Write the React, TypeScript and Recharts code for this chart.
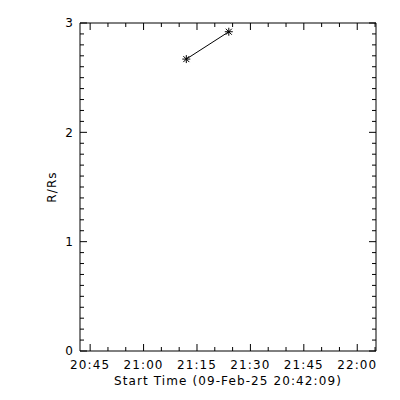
import React from 'react';
import { LineChart, Line, XAxis, YAxis } from 'recharts';

// ---- data ----
const startTimeLabel = '09-Feb-25 20:42:09';
const axisStartTime = '20:42:09';
const axisEndTime = '22:05:16';
const eventTimes = ['21:12:00', '21:23:56'];
const heightsRs = [2.67, 2.92];
const xTickTimes = [
  '20:45', '20:50', '20:55', '21:00', '21:05', '21:10', '21:15', '21:20', '21:25',
  '21:30', '21:35', '21:40', '21:45', '21:50', '21:55', '22:00', '22:05',
];
const xMajorLabels = ['20:45', '21:00', '21:15', '21:30', '21:45', '22:00'];
const yMajorTicks = [0, 1, 2, 3];
const yMinorPerMajor = 10;
const yTitle = 'R/Rs';

const toMin = (s: string) => {
  const p = s.split(':').map(Number);
  return p[0] * 60 + p[1] + (p[2] || 0) / 60;
};
const fmt = (m: number) => {
  const h = Math.floor(m / 60 + 1e-9);
  const mm = Math.round(m - h * 60);
  return `${String(h).padStart(2, '0')}:${String(mm).padStart(2, '0')}`;
};

const data = eventTimes.map((t, i) => ({ t: toMin(t), r: heightsRs[i] }));
const xTicks = xTickTimes.map(toMin);
const xMajorSet = new Set(xMajorLabels.map(toMin));
const xDomain = [toMin(axisStartTime), toMin(axisEndTime)];
const yTicks: number[] = [];
for (let i = 0; i < yMajorTicks.length - 1; i++) {
  const a = yMajorTicks[i];
  const b = yMajorTicks[i + 1];
  for (let k = 0; k < yMinorPerMajor; k++) yTicks.push(a + ((b - a) * k) / yMinorPerMajor);
}
yTicks.push(yMajorTicks[yMajorTicks.length - 1]);
const isYMajor = (v: number) => yMajorTicks.some((m) => Math.abs(m - v) < 1e-6);

const FONT = 'DejaVu Sans';
const textStyle = { fontFamily: FONT, fontSize: 12, letterSpacing: 1.1, fill: '#000' } as const;
const MAJ = 7;
const MIN = 4;

const BottomTick = (p: any) => {
  const { x, y, payload } = p;
  const major = xMajorSet.has(payload.value);
  return (
    <g>
      <line x1={x} x2={x} y1={y} y2={y - (major ? MAJ : MIN)} stroke="#000" strokeWidth={1} />
      {major && (
        <text x={x} y={y + 14} dy="0.35em" textAnchor="middle" style={textStyle}>
          {fmt(payload.value)}
        </text>
      )}
    </g>
  );
};
const TopTick = (p: any) => {
  const { x, y, payload } = p;
  const major = xMajorSet.has(payload.value);
  return <line x1={x} x2={x} y1={y} y2={y + (major ? MAJ : MIN)} stroke="#000" strokeWidth={1} />;
};
const LeftTick = (p: any) => {
  const { x, y, payload } = p;
  const major = isYMajor(payload.value);
  return (
    <g>
      <line x1={x} x2={x + (major ? MAJ : MIN)} y1={y} y2={y} stroke="#000" strokeWidth={1} />
      {major && (
        <text x={x - 6} y={y} dy="0.35em" textAnchor="end" style={textStyle}>
          {Math.round(payload.value)}
        </text>
      )}
    </g>
  );
};
const RightTick = (p: any) => {
  const { x, y, payload } = p;
  const major = isYMajor(payload.value);
  return <line x1={x} x2={x - (major ? MAJ : MIN)} y1={y} y2={y} stroke="#000" strokeWidth={1} />;
};

const Asterisk = (p: any) => {
  const { cx, cy, index } = p;
  const r = 4;
  const d = 3;
  return (
    <g key={`ast-${index}`} stroke="#000" strokeWidth={1}>
      <line x1={cx} x2={cx} y1={cy - r} y2={cy + r} />
      <line x1={cx - r} x2={cx + r} y1={cy} y2={cy} />
      <line x1={cx - d} x2={cx + d} y1={cy - d} y2={cy + d} />
      <line x1={cx - d} x2={cx + d} y1={cy + d} y2={cy - d} />
    </g>
  );
};

const XTitle = (p: any) => {
  const vb = p.viewBox || {};
  return (
    <text x={vb.x + vb.width / 2} y={vb.y + 30} dy="0.35em" textAnchor="middle" style={textStyle}>
      {`Start Time (${startTimeLabel})`}
    </text>
  );
};
const YTitle = (p: any) => {
  const vb = p.viewBox || {};
  const x = vb.x + 52;
  const y = vb.y + vb.height / 2;
  return (
    <text x={x} y={y} dy="0.35em" textAnchor="middle" transform={`rotate(-90, ${x}, ${y})`} style={textStyle}>
      {yTitle}
    </text>
  );
};

export default function App() {
  return (
    <div style={{ position: 'absolute', left: 0, top: 0, width: 400, height: 400, background: '#fff' }}>
      <LineChart width={400} height={400} data={data} margin={{ top: 22, right: 23, bottom: 0, left: 0 }}>
        <XAxis
          dataKey="t"
          type="number"
          domain={xDomain}
          allowDataOverflow
          ticks={xTicks}
          interval={0}
          height={49}
          tickSize={0}
          tickMargin={0}
          tickLine={false}
          axisLine={{ stroke: '#000', strokeWidth: 1 }}
          tick={<BottomTick />}
          label={<XTitle />}
        />
        <XAxis
          xAxisId="top"
          orientation="top"
          dataKey="t"
          type="number"
          domain={xDomain}
          allowDataOverflow
          ticks={xTicks}
          interval={0}
          height={1}
          tickSize={0}
          tickMargin={0}
          tickLine={false}
          axisLine={{ stroke: '#000', strokeWidth: 1 }}
          tick={<TopTick />}
        />
        <YAxis
          type="number"
          domain={[0, 3]}
          allowDataOverflow
          ticks={yTicks}
          interval={0}
          width={80}
          tickSize={0}
          tickMargin={0}
          tickLine={false}
          axisLine={{ stroke: '#000', strokeWidth: 1 }}
          tick={<LeftTick />}
          label={<YTitle />}
        />
        <YAxis
          yAxisId="right"
          orientation="right"
          type="number"
          domain={[0, 3]}
          allowDataOverflow
          ticks={yTicks}
          interval={0}
          width={1}
          tickSize={0}
          tickMargin={0}
          tickLine={false}
          axisLine={{ stroke: '#000', strokeWidth: 1 }}
          tick={<RightTick />}
        />
        <Line
          xAxisId="top"
          yAxisId="right"
          dataKey="r"
          stroke="none"
          dot={false}
          activeDot={false}
          legendType="none"
          isAnimationActive={false}
        />
        <Line
          dataKey="r"
          stroke="#000"
          strokeWidth={1}
          dot={Asterisk}
          activeDot={false}
          isAnimationActive={false}
        />
      </LineChart>
    </div>
  );
}
